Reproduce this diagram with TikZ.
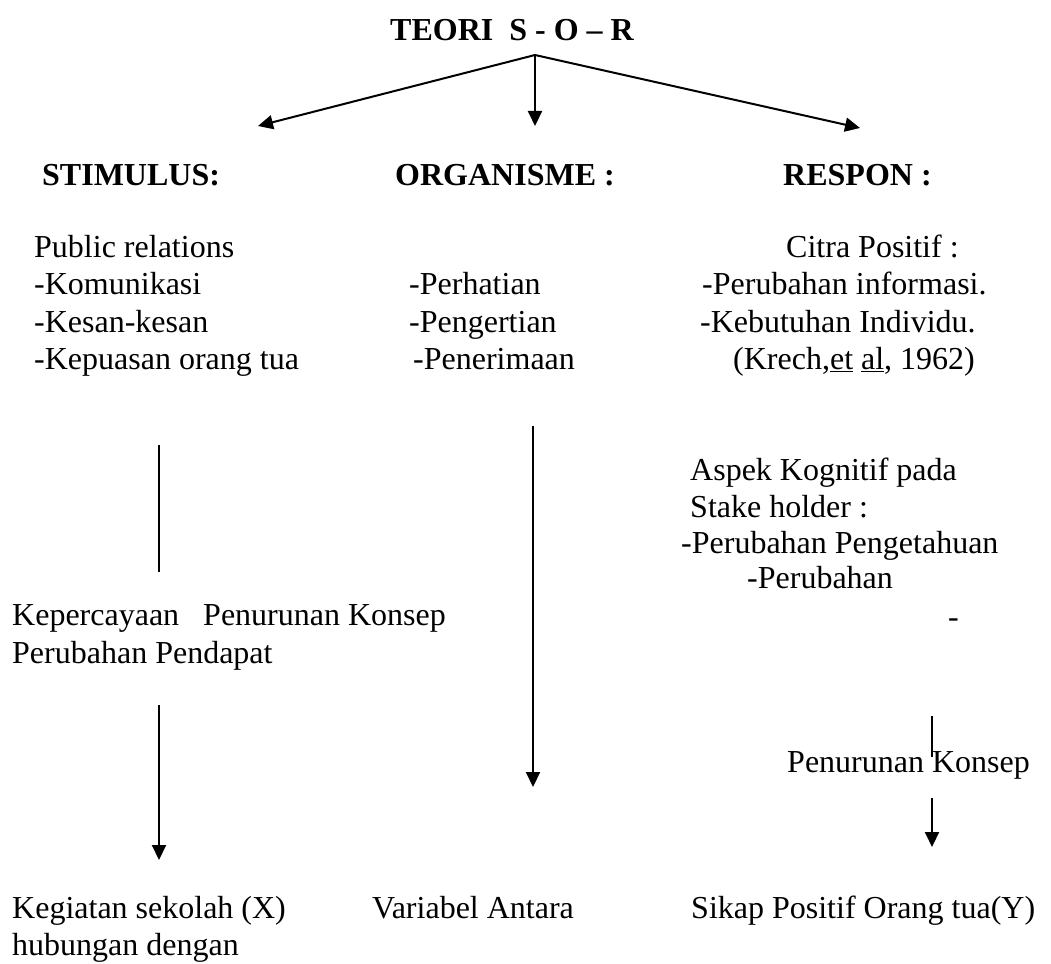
\documentclass[tikz,border=0pt]{standalone}
\usepackage{fontspec}
\setmainfont{Liberation Serif}
\usetikzlibrary{arrows.meta}
\begin{document}
\begin{tikzpicture}[x=1pt,y=-1pt,
  txt/.style={anchor=base west,inner sep=0pt,font=\fontsize{32}{37}\selectfont},
  head/.style={txt,font=\fontsize{32}{37}\selectfont\bfseries},
  conn/.style={line width=2pt},
  arr/.style={conn,-{Triangle[length=15pt,width=14pt]}}]
\useasboundingbox (0,0) rectangle (1051,963);
% title and top arrows
\node[head] (title) at (390,41) {TEORI\ \ S - O -- R};
\coordinate (apex) at (535,55);
\coordinate (tipL) at (258,126);
\coordinate (tipM) at (535,126);
\coordinate (tipR) at (860,128);
\draw[arr] (apex) -- (tipL);
\draw[arr] (apex) -- (tipM);
\draw[arr] (apex) -- (tipR);
% headings
\node[head] (stim) at (42,185) {STIMULUS:};
\node[head] (org) at (395,185) {ORGANISME :};
\node[head] (resp) at (783,185) {RESPON :};
% stimulus list
\node[txt] (s1) at (34,257) {Public relations};
\node[txt] (s2) at (34,294) {-Komunikasi};
\node[txt] (s3) at (34,332) {-Kesan-kesan};
\node[txt] (s4) at (34,369) {-Kepuasan orang tua};
% organism list
\node[txt] (o2) at (409,294) {-Perhatian};
\node[txt] (o3) at (409,332) {-Pengertian};
\node[txt] (o4) at (413,369) {-Penerimaan};
% response list
\node[txt] (r1) at (786,257) {Citra Positif :};
\node[txt] (r2) at (702,294) {-Perubahan informasi.};
\node[txt] (r3) at (700,332) {-Kebutuhan Individu.};
\node[txt] (r4) at (733,369) {(Krech,\underline{et} \underline{al}, 1962)};
% left column middle
\coordinate (l1a) at (159,445);
\coordinate (l1b) at (159,572);
\draw[conn] (l1a) -- (l1b);
\node[txt] (k1) at (12,625) {Kepercayaan\ \ \ Penurunan Konsep};
\node[txt] (k2) at (12,663) {Perubahan Pendapat};
\coordinate (l2a) at (159,705);
\coordinate (l2b) at (159,860);
\draw[arr] (l2a) -- (l2b);
% middle long arrow
\coordinate (m1a) at (533,426);
\coordinate (m1b) at (533,787);
\draw[arr] (m1a) -- (m1b);
% right column middle
\node[txt] (a1) at (690,480) {Aspek Kognitif pada};
\node[txt] (a2) at (690,517) {Stake holder :};
\node[txt] (a3) at (681,553) {-Perubahan Pengetahuan};
\node[txt] (a4) at (747,588) {-Perubahan};
\node[txt] (a5) at (948,627) {-};
\coordinate (r1a) at (932,716);
\coordinate (r1b) at (932,757);
\draw[line width=1.5pt] (r1a) -- (r1b);
\node[txt] (pk) at (787,772) {Penurunan Konsep};
\coordinate (r2a) at (932,798);
\coordinate (r2b) at (932,847);
\draw[arr] (r2a) -- (r2b);
% bottom
\node[txt] (b1) at (12,918) {Kegiatan sekolah (X)};
\node[txt] (b2) at (12,955) {hubungan dengan};
\node[txt] (b3) at (372,918) {Variabel Antara};
\node[txt] (b4) at (691,918) {Sikap Positif Orang tua(Y)};
\end{tikzpicture}
\end{document}
